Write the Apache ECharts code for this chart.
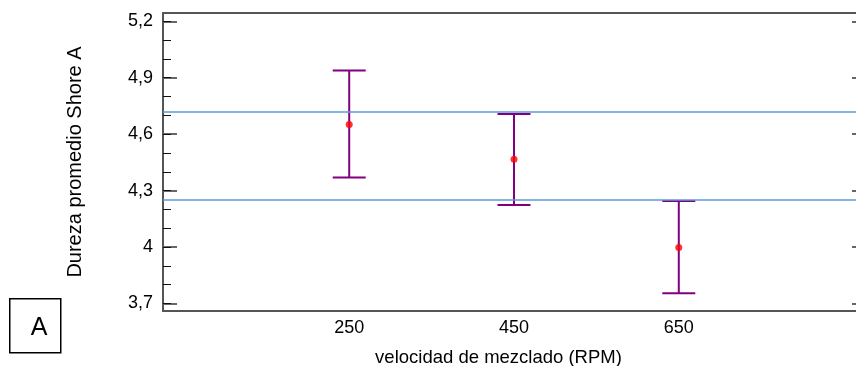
<!DOCTYPE html>
<html>
<head>
<meta charset="utf-8">
<script src="https://cdn.jsdelivr.net/npm/echarts@6/dist/echarts.min.js"></script>
<style>html,body{margin:0;padding:0;background:#fff}#c{width:856px;height:366px}</style>
</head>
<body>
<div id="c"></div>
<script>
const categories = [250, 450, 650];
const means = [4.651, 4.466, 3.998];
const lower = [4.370, 4.223, 3.755];
const upper = [4.938, 4.707, 4.245];
const refLines = [4.725, 4.252];
const yMajorTicks = [3.7, 4.0, 4.3, 4.6, 4.9, 5.2];
const yMinorTicks = [3.7, 3.8, 3.9, 4.0, 4.1, 4.2, 4.3, 4.4, 4.5, 4.6, 4.7, 4.8, 4.9, 5.0, 5.1, 5.2];

const FONT = "'Liberation Sans', Arial, sans-serif";
const chart = echarts.init(document.getElementById('c'), null, {renderer: 'canvas'});
const yMin = 3.66, yMax = 5.244, xMin = 24, xMax = 876;
const axisLineStyle = {color: '#555', width: 2};

chart.setOption({
  animation: false,
  grid: {left: 163, top: 13, width: 702, height: 298, containLabel: false, outerBoundsMode: 'none'},
  xAxis: [{
    type: 'value', min: xMin, max: xMax, position: 'bottom',
    axisLine: {show: true, onZero: false, lineStyle: axisLineStyle},
    axisTick: {show: false}, splitLine: {show: false},
    axisLabel: {customValues: categories, margin: 8, color: '#000', fontSize: 18, fontFamily: FONT},
    name: 'velocidad de mezclado (RPM)', nameLocation: 'middle', nameGap: 37,
    nameTextStyle: {color: '#000', fontSize: 18.5, fontFamily: FONT, padding: [0, 31, 0, 0]}
  }, {
    type: 'value', min: xMin, max: xMax, position: 'top',
    axisLine: {show: true, onZero: false, lineStyle: axisLineStyle},
    axisTick: {show: false}, axisLabel: {show: false}, splitLine: {show: false}
  }],
  yAxis: [{
    type: 'value', min: yMin, max: yMax, position: 'left',
    axisLine: {show: true, onZero: false, lineStyle: axisLineStyle},
    axisTick: {show: true, inside: true, length: 14, customValues: yMajorTicks, lineStyle: {color: '#666', width: 2}},
    splitLine: {show: false},
    axisLabel: {customValues: yMajorTicks, margin: 10, color: '#000', fontSize: 18, fontFamily: FONT,
      formatter: v => String(Math.round(v * 10) / 10).replace('.', ',')},
    name: 'Dureza promedio Shore A', nameLocation: 'middle', nameGap: 78,
    nameTextStyle: {color: '#000', fontSize: 20, fontFamily: FONT}
  }, {
    type: 'value', min: yMin, max: yMax, position: 'left',
    axisLine: {show: false},
    axisTick: {show: true, inside: true, length: 8, customValues: yMinorTicks, lineStyle: {color: '#111', width: 1}},
    axisLabel: {show: false}, splitLine: {show: false}
  }, {
    type: 'value', min: yMin, max: yMax, position: 'right',
    axisLine: {show: false},
    axisTick: {show: true, inside: true, length: 13, customValues: yMajorTicks, lineStyle: {color: '#666', width: 2}},
    axisLabel: {show: false}, splitLine: {show: false}
  }],
  series: [{
    type: 'custom',
    xAxisIndex: 0, yAxisIndex: 0,
    data: categories.map((c, i) => [c, lower[i], upper[i]]),
    renderItem: function (params, api) {
      const x = api.value(0);
      const lo = api.coord([x, api.value(1)]);
      const hi = api.coord([x, api.value(2)]);
      const hw = 16.5;
      const style = {stroke: '#800080', lineWidth: 2};
      return {
        type: 'group',
        children: [
          {type: 'line', shape: {x1: hi[0], y1: hi[1], x2: lo[0], y2: lo[1]}, style: style},
          {type: 'line', shape: {x1: hi[0] - hw, y1: hi[1], x2: hi[0] + hw, y2: hi[1]}, style: style},
          {type: 'line', shape: {x1: lo[0] - hw, y1: lo[1], x2: lo[0] + hw, y2: lo[1]}, style: style}
        ]
      };
    },
    z: 3
  }, {
    type: 'scatter',
    xAxisIndex: 0, yAxisIndex: 0,
    data: categories.map((c, i) => [c, means[i]]),
    symbol: 'circle', symbolSize: 7,
    itemStyle: {color: '#ff0000'},
    z: 4,
    markLine: {
      silent: true, symbol: 'none', label: {show: false},
      lineStyle: {color: '#5B9BD5', width: 1.5, type: 'solid'},
      data: refLines.map(v => ({yAxis: v}))
    }
  }],
  graphic: [{
    type: 'rect', left: 9, top: 298,
    shape: {width: 51, height: 54},
    style: {fill: '#fff', stroke: '#000', lineWidth: 1.5}
  }, {
    type: 'text', x: 39, y: 328,
    style: {text: 'A', fontSize: 25, fontFamily: FONT, fill: '#000', align: 'center', verticalAlign: 'middle'}
  }]
});
</script>
</body>
</html>
